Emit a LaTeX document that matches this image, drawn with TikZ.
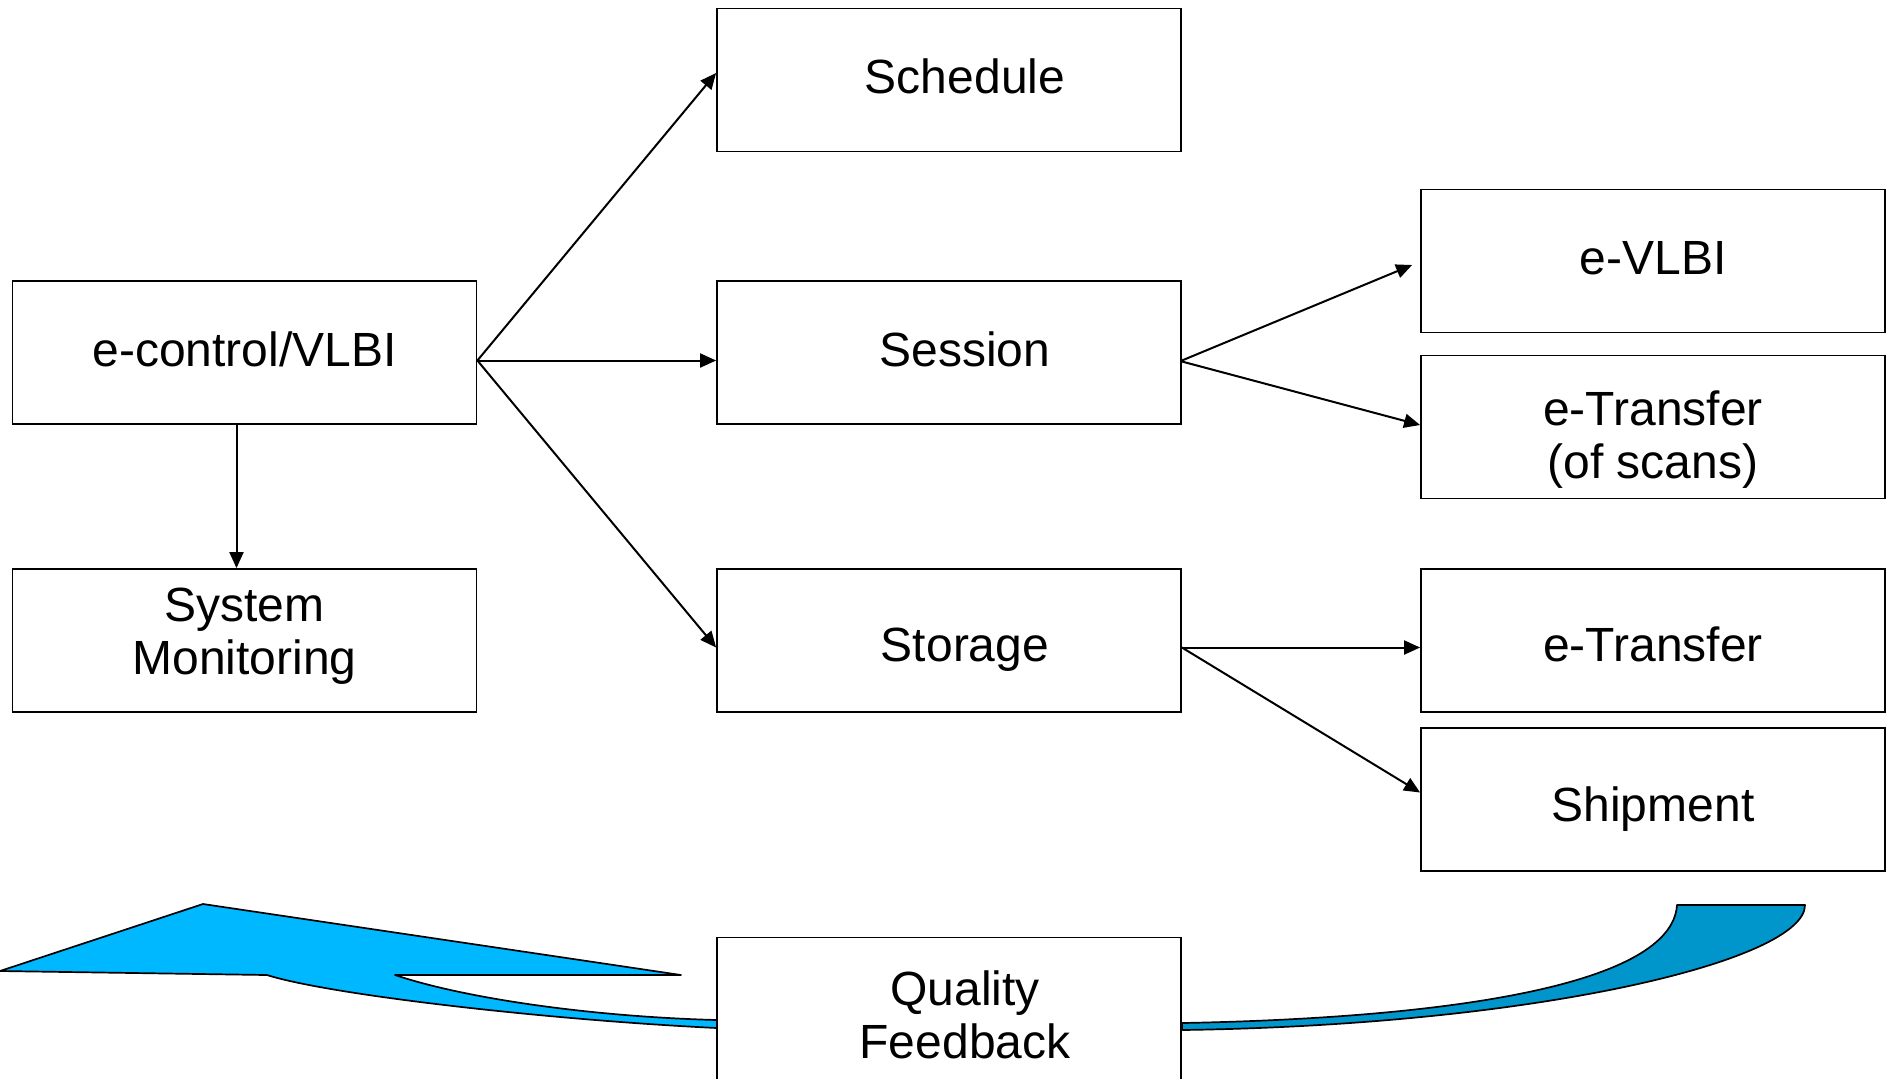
\documentclass[tikz,border=0pt]{standalone}
\usepackage{fontspec}
\setmainfont{Liberation Sans}
\usetikzlibrary{arrows.meta,calc}
\definecolor{flowlight}{RGB}{0,184,255}
\definecolor{flowdark}{RGB}{0,150,204}
% #1: drop of the first baseline below the box centre, #2: centred lines
\newcommand{\celltext}[2]{\raisebox{-#1}{\begin{tabular}[t]{@{}c@{}}#2\end{tabular}}}
\begin{document}
\begin{tikzpicture}[x=0.5pt,y=-0.5pt,
  box/.style={draw=black,line width=0.9pt,fill=white,rectangle,
    minimum width=232pt,minimum height=71.5pt,inner sep=0pt,
    text height=0pt,text depth=0pt,
    font=\fontsize{24}{26.5}\selectfont},
  link/.style={line width=1pt,-{Triangle[length=8pt,width=7pt]}},
  band/.style={draw=black,line width=0.85pt,line join=round}]
\useasboundingbox (0,0) rectangle (1889,1078);

% feedback band, back (right) part
\filldraw[band,fill=flowdark]
  (1182,1023) .. controls (1450,1018) and (1672,985) .. (1677,905)
  -- (1805,905) .. controls (1805,960) and (1540,1025) .. (1182,1030) -- cycle;
% feedback band, front part with arrow head
\filldraw[band,fill=flowlight]
  (0,971) -- (203,904) -- (681,975) -- (395,975)
  .. controls (470,1000) and (600,1017) .. (717,1020)
  -- (717,1028) .. controls (550,1020) and (330,995) .. (267,975) -- cycle;

% boxes
\node[box] (sched)   at (949,80)      {\hspace*{16pt}\celltext{6.8pt}{Schedule}};
\node[box] (ectl)    at (244.5,352.5) {\celltext{6.8pt}{e-control/VLBI}};
\node[box] (session) at (949,352.5)   {\hspace*{16pt}\celltext{6.8pt}{Session}};
\node[box] (sysmon)  at (244.5,640.5) {\celltext{-9.4pt}{System\\Monitoring}};
\node[box] (storage) at (949,640.5)   {\hspace*{16pt}\celltext{10.6pt}{Storage}};
\node[box] (evlbi)   at (1653,261)    {\celltext{6.8pt}{e-VLBI}};
\node[box] (etscan)  at (1653,427)    {\celltext{-1pt}{e-Transfer\\(of scans)}};
\node[box] (etrans)  at (1653,640.5)  {\celltext{10.6pt}{e-Transfer}};
\node[box] (ship)    at (1653,799.5)  {\celltext{11.1pt}{Shipment}};
\node[box] (qf)      at (949,1009)    {\hspace*{16pt}\celltext{-2pt}{Quality\\Feedback}};

% connectors
\draw[link] ($(ectl.east)+(0,8)$) -- ($(sched.west)+(0,-7)$);
\draw[link] ($(ectl.east)+(0,8)$) -- ($(session.west)+(0,8)$);
\draw[link] ($(ectl.east)+(0,8)$) -- ($(storage.west)+(0,7)$);
\draw[link] ($(ectl.south)+(-8,0)$) -- ($(sysmon.north)+(-8,0)$);
\draw[link] ($(session.east)+(0,8)$) -- ($(evlbi.west)+(-8,4)$);
\draw[link] ($(session.east)+(0,9)$) -- ($(etscan.west)+(0,-2)$);
\draw[link] ($(storage.east)+(0,7)$) -- ($(etrans.west)+(0,7)$);
\draw[link] ($(storage.east)+(0,7)$) -- ($(ship.west)+(0,-7)$);
\end{tikzpicture}
\end{document}
